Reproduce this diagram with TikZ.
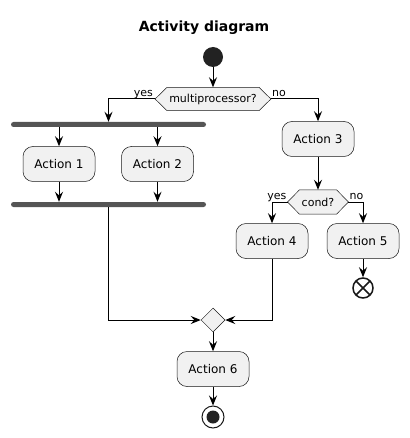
\documentclass[tikz,border=0pt]{standalone}
\usepackage{fontspec}
\setmainfont{DejaVu Sans}
\usetikzlibrary{arrows.meta,shapes.geometric,backgrounds}

\definecolor{actfill}{HTML}{F1F1F1}
\definecolor{actline}{HTML}{181818}
\definecolor{bargray}{HTML}{555555}
\definecolor{dotfill}{HTML}{222222}

\tikzset{
    action/.style={rectangle, rounded corners=10pt, draw=actline, fill=actfill,
        line width=0.5pt, minimum width=72pt, minimum height=35pt,
        font=\fontsize{12}{14}\selectfont},
    choice/.style={rectangle, minimum height=23pt, inner xsep=2pt, inner ysep=0pt,
        font=\fontsize{11}{13}\selectfont},
    hexline/.style={draw=actline, fill=actfill, line width=0.5pt},
    bar/.style={rectangle, rounded corners=2.5pt, fill=bargray,
        minimum width=195pt, minimum height=5pt, inner sep=0pt},
    guard/.style={inner sep=0pt, font=\fontsize{11}{13}\selectfont},
    flow/.style={line width=1pt, -{Stealth[length=10pt, width=8pt, inset=3.5pt]}}
}

\begin{document}
\begin{tikzpicture}[x=1pt, y=-1pt]
    \useasboundingbox (0,0) rectangle (409,438);

    \node[font=\fontsize{14}{16}\selectfont\bfseries] (title) at (204,28) {Activity diagram};

    \node[circle, fill=dotfill, minimum size=20pt, inner sep=0pt] (start) at (213,57) {};
    \node[choice] (mp) at (213,99) {multiprocessor?};
    \coordinate (mpW) at ([xshift=-12pt]mp.west);
    \coordinate (mpE) at ([xshift=12pt]mp.east);
    \node[guard, anchor=base east, xshift=-2pt, yshift=2pt] (yes1) at (mpW) {yes};
    \node[guard, anchor=base west, xshift=1pt, yshift=2pt] (no1) at (mpE) {no};

    % left branch: fork / join
    \node[bar] (fork) at (108.5,124.5) {};
    \node[action] (a1) at (59,164) {Action 1};
    \node[action] (a2) at (157.5,164) {Action 2};
    \node[bar] (join) at (108.5,204.5) {};

    % right branch
    \node[action] (a3) at (318,139) {Action 3};
    \node[choice, minimum height=24pt] (cond) at (318,202) {cond?};
    \coordinate (condW) at ([xshift=-12pt]cond.west);
    \coordinate (condE) at ([xshift=12pt]cond.east);
    \node[guard, anchor=base east, xshift=-1pt, yshift=2pt] (yes2) at (condW) {yes};
    \node[guard, anchor=base west, xshift=1pt, yshift=2pt] (no2) at (condE) {no};
    \node[action] (a4) at (272,241) {Action 4};
    \node[action] (a5) at (363,241) {Action 5};
    \node[circle, draw=actline, line width=1.5pt, fill=white, minimum size=20pt, inner sep=0pt,
        path picture={\draw[line width=1.5pt, actline]
            (path picture bounding box.north west) -- (path picture bounding box.south east)
            (path picture bounding box.north east) -- (path picture bounding box.south west);}]
        (endx) at (363,288) {};

    % merge and end
    \node[diamond, draw=actline, fill=actfill, line width=0.5pt, minimum size=24pt, inner sep=0pt] (merge) at (213,320) {};
    \node[action] (a6) at (213,369) {Action 6};
    \node[circle, draw=actline, line width=1pt, fill=white, minimum size=22pt, inner sep=0pt] (stop) at (213,417) {};
    \fill[dotfill] (stop) circle (6.5pt);

    % hexagons behind the two questions
    \begin{scope}[on background layer]
        \foreach \q in {mp,cond}
            \path[hexline] (\q.north west) -- (\q.north east) -- (\q E) -- (\q.south east)
                -- (\q.south west) -- (\q W) -- cycle;
    \end{scope}

    \draw[flow] (start) -- (mp);
    \draw[flow] (mpW) -| (fork.north);
    \draw[flow] (mpE) -| (a3.north);
    \foreach \a in {a1,a2} {
        \draw[flow] (\a |- fork.south) -- (\a.north);
        \draw[flow] (\a.south) -- (\a |- join.north);
    }
    \draw[flow] (join.south) |- (merge.west);
    \draw[flow] (a3) -- (cond);
    \draw[flow] (condW) -| (a4.north);
    \draw[flow] (condE) -| (a5.north);
    \draw[flow] (a5) -- (endx);
    \draw[flow] (a4.south) |- (merge.east);
    \draw[flow] (merge) -- (a6);
    \draw[flow] (a6) -- (stop);
\end{tikzpicture}
\end{document}
